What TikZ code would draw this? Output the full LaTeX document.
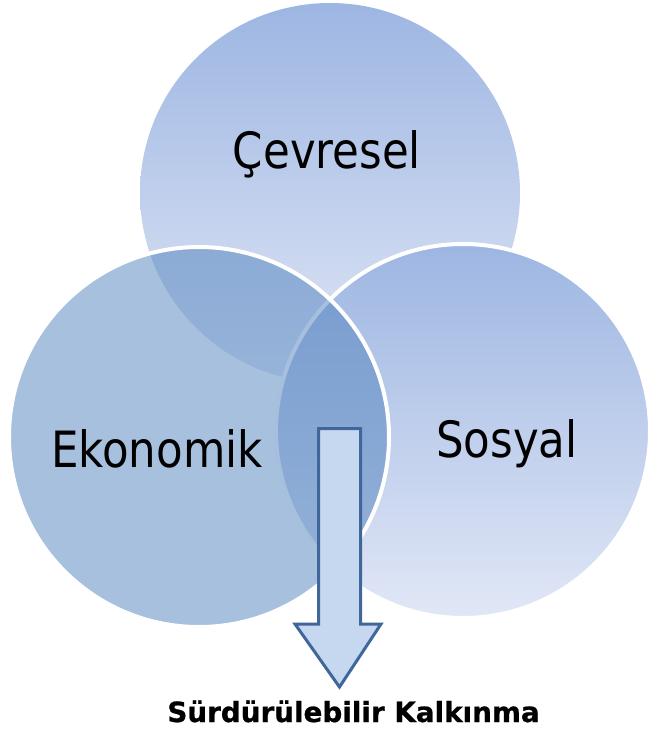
\documentclass[tikz,border=0pt]{standalone}
\usepackage{fontspec}
\newfontfamily\ringfont[FakeStretch=0.87]{DejaVu Sans}
\newfontfamily\notefont[BoldFeatures={FakeBold=0.8}]{DejaVu Sans}
\definecolor{accentblue}{HTML}{4F81BD}
\definecolor{ringtop}{HTML}{9DB6E2}
\definecolor{ringbottom}{HTML}{E1E7F6}
\definecolor{arrowfill}{HTML}{C6D8F0}
\definecolor{arrowline}{HTML}{41669A}
\tikzset{
  ring/.style={circle, inner sep=0pt, outer sep=0pt},
  shadedring/.style={ring, top color=ringtop, bottom color=ringbottom},
  ringlabel/.style={anchor=base, inner sep=0pt, font=\ringfont\fontsize{50}{60}\selectfont},
  notelabel/.style={anchor=base, inner sep=0pt, font=\notefont\bfseries\fontsize{27.8}{33}\selectfont},
  downarrow/.style={fill=arrowfill, draw=arrowline, line width=3pt, line join=miter}
}
\begin{document}
\begin{tikzpicture}[x=1pt, y=-1pt]
  \useasboundingbox (0,0) rectangle (648,729);
  % three overlapping rings
  \node[shadedring, minimum size=380pt] (env) at (330,193) {};
  \node[shadedring, minimum size=374pt, draw=white, line width=4pt] (soc) at (463,431) {};
  \node[ring, minimum size=380pt, fill=accentblue, fill opacity=0.5, draw=white, line width=4pt] (eco) at (199,437) {};
  % arrow pointing down to the result
  \coordinate (shaftTL) at (318.5,428.5);
  \coordinate (shaftTR) at (360.5,428.5);
  \coordinate (shaftBR) at (360.5,624);
  \coordinate (headR) at (381,624);
  \coordinate (tip) at (339.5,687);
  \coordinate (headL) at (295,624);
  \coordinate (shaftBL) at (318.5,624);
  \draw[downarrow] (shaftTL) -- (shaftTR) -- (shaftBR) -- (headR) -- (tip) -- (headL) -- (shaftBL) -- cycle;
  % labels
  \node[ringlabel] (envtext) at (327,168) {Çevresel};
  \node[ringlabel] (ecotext) at (157,467) {Ekonomik};
  \node[ringlabel] (soctext) at (507,457) {Sosyal};
  \node[notelabel] (result) at (353.5,722) {Sürdürülebilir Kalkınma};
\end{tikzpicture}
\end{document}
